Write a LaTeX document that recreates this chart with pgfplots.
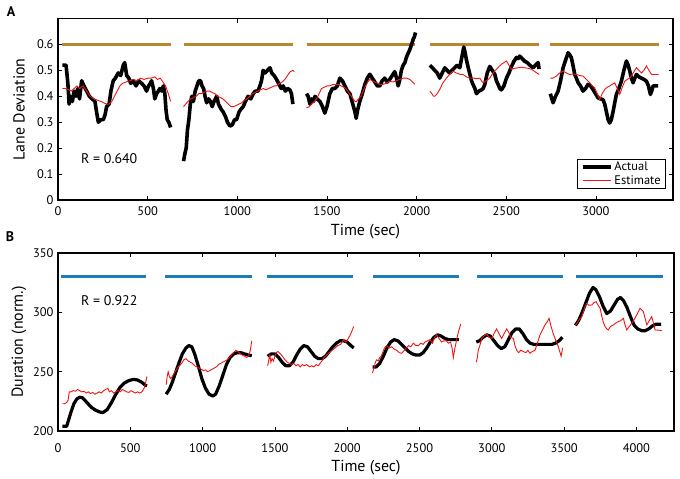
\documentclass[border=0pt]{standalone}
\usepackage{pgfplots}
\pgfplotsset{compat=1.18}
\usepackage{fontspec}
\setmainfont{PT Sans}
\definecolor{gold}{RGB}{183,136,46}
\definecolor{barblue}{RGB}{28,124,186}
\definecolor{estred}{RGB}{240,20,20}
\pgfplotsset{
  common/.style={
    scale only axis,
    axis line style={line width=1.1bp},
    tick style={line width=0.8bp, black},
    major tick length=4bp,
    tick align=inside,
    /pgf/number format/assume math mode=true,
    /pgf/number format/1000 sep={},
    scaled ticks=false,
    ticklabel style={font=\fontsize{12.5}{14}\selectfont},
    xticklabel style={yshift=-3bp},
    yticklabel style={xshift=-1bp},
    label style={font=\fontsize{16}{18}\selectfont},
    xlabel style={at={(axis description cs:0.5,0)}, anchor=north, inner sep=0pt},
    legend image code/.code={\draw[#1] (0bp,0bp) -- (28bp,0bp);},
  },
  act/.style={black, line width=3.6bp, line join=round, forget plot},
  est/.style={estred, line width=0.9bp, forget plot},
}
\begin{document}
\begin{tikzpicture}[x=1bp,y=1bp]
\path[use as bounding box] (0,0) rectangle (680,-479);
\node[font=\fontsize{14}{16}\selectfont\bfseries, anchor=center] at (11,-12) {A};
\node[font=\fontsize{14}{16}\selectfont\bfseries, anchor=center] at (10,-237) {B};
\begin{axis}[common,
  at={(58bp,-200bp)}, anchor=south west,
  width=615bp, height=181.5bp,
  xmin=0, xmax=3430, ymin=0, ymax=0.7,
  xtick={0,500,1000,1500,2000,2500,3000},
  ytick={0,0.1,0.2,0.3,0.4,0.5,0.6},
  yticklabels={0,0.1,0.2,0.3,0.4,0.5,0.6},
  xlabel={Time (sec)}, ylabel={Lane Deviation},
  xlabel style={yshift=-24bp},
  ylabel style={at={(axis description cs:-0.0634,0.5)}, anchor=center},
  legend style={at={(rel axis cs:0.9886,0.0606)}, anchor=south east,
    font=\fontsize{12.5}{14}\selectfont, draw=black, line width=0.8bp,
    inner xsep=3bp, inner ysep=1bp, row sep=-1bp},
  legend cell align=left,
]
\addlegendimage{black, line width=3.6bp}
\addlegendentry{Actual}
\addlegendimage{estred, line width=0.9bp}
\addlegendentry{Estimate}
% bars
\addplot[gold, line width=3bp, forget plot] coordinates {(24,0.6) (632,0.6)};
\addplot[gold, line width=3bp, forget plot] coordinates {(702,0.6) (1312,0.6)};
\addplot[gold, line width=3bp, forget plot] coordinates {(1386,0.6) (1990,0.6)};
\addplot[gold, line width=3bp, forget plot] coordinates {(2074,0.6) (2683,0.6)};
\addplot[gold, line width=3bp, forget plot] coordinates {(2746,0.6) (3352,0.6)};
% actual
\addplot[act] coordinates {(24,0.52) (45,0.52) (55,0.45) (62,0.37) (70,0.40) (80,0.38) (90,0.42) (100,0.40) (110,0.43) (120,0.39) (132,0.46) (145,0.44) (160,0.42) (175,0.40) (190,0.39) (206,0.38) (215,0.34) (225,0.30) (240,0.31) (253,0.31) (263,0.33) (271,0.36) (285,0.37) (295,0.42) (308,0.46) (320,0.47) (336,0.49) (350,0.48) (364,0.52) (372,0.53) (383,0.48) (395,0.47) (405,0.45) (420,0.46) (435,0.44) (450,0.46) (466,0.45) (480,0.44) (494,0.42) (505,0.44) (515,0.45) (522,0.46) (532,0.43) (540,0.39) (550,0.41) (560,0.42) (568,0.43) (578,0.42) (588,0.44) (596,0.41) (602,0.35) (609,0.31) (618,0.30) (628,0.28)};
\addplot[act] coordinates {(700,0.15) (708,0.18) (715,0.20) (722,0.27) (730,0.31) (738,0.37) (746,0.40) (755,0.38) (765,0.42) (775,0.44) (785,0.46) (795,0.46) (803,0.44) (812,0.43) (820,0.40) (829,0.375) (840,0.39) (850,0.38) (860,0.36) (870,0.38) (885,0.40) (895,0.37) (910,0.35) (921,0.34) (935,0.32) (945,0.30) (959,0.285) (972,0.29) (985,0.31) (996,0.31) (1010,0.34) (1020,0.35) (1033,0.36) (1045,0.38) (1060,0.40) (1075,0.39) (1089,0.41) (1100,0.42) (1115,0.42) (1126,0.44) (1135,0.46) (1144,0.50) (1155,0.49) (1168,0.50) (1182,0.51) (1192,0.49) (1205,0.48) (1219,0.465) (1230,0.45) (1245,0.43) (1256,0.44) (1268,0.42) (1280,0.43) (1293,0.425) (1302,0.41) (1310,0.37)};
\addplot[act] coordinates {(1386,0.41) (1395,0.40) (1405,0.37) (1415,0.39) (1425,0.38) (1433,0.40) (1445,0.39) (1461,0.38) (1475,0.36) (1488,0.335) (1500,0.36) (1516,0.41) (1530,0.43) (1544,0.43) (1558,0.44) (1572,0.47) (1586,0.46) (1600,0.44) (1614,0.42) (1628,0.41) (1640,0.38) (1648,0.36) (1656,0.34) (1663,0.315) (1672,0.35) (1683,0.38) (1697,0.41) (1711,0.445) (1725,0.47) (1739,0.485) (1753,0.47) (1767,0.455) (1781,0.44) (1795,0.44) (1808,0.46) (1822,0.47) (1836,0.455) (1850,0.465) (1864,0.48) (1878,0.495) (1888,0.47) (1897,0.44) (1905,0.46) (1915,0.50) (1925,0.52) (1935,0.53) (1943,0.55) (1952,0.565) (1962,0.58) (1972,0.60) (1981,0.62) (1988,0.63) (1994,0.646)};
\addplot[act] coordinates {(2074,0.52) (2088,0.51) (2101,0.50) (2115,0.49) (2129,0.47) (2143,0.49) (2157,0.51) (2170,0.50) (2184,0.49) (2198,0.50) (2212,0.51) (2226,0.52) (2241,0.51) (2252,0.55) (2263,0.59) (2270,0.57) (2278,0.54) (2288,0.51) (2297,0.485) (2306,0.46) (2315,0.445) (2325,0.43) (2334,0.41) (2348,0.42) (2362,0.425) (2371,0.43) (2380,0.445) (2394,0.49) (2408,0.515) (2422,0.50) (2436,0.485) (2445,0.46) (2455,0.445) (2464,0.43) (2473,0.425) (2487,0.44) (2501,0.47) (2515,0.49) (2529,0.515) (2543,0.535) (2557,0.55) (2566,0.545) (2575,0.555) (2589,0.545) (2603,0.535) (2617,0.53) (2631,0.52) (2640,0.515) (2650,0.51) (2663,0.52) (2678,0.53) (2683,0.505)};
\addplot[act] coordinates {(2746,0.41) (2754,0.39) (2761,0.375) (2775,0.40) (2789,0.42) (2803,0.46) (2817,0.51) (2831,0.54) (2845,0.568) (2854,0.56) (2863,0.549) (2872,0.52) (2882,0.484) (2891,0.47) (2901,0.452) (2914,0.44) (2928,0.42) (2942,0.43) (2956,0.446) (2970,0.44) (2984,0.426) (2998,0.41) (3012,0.394) (3026,0.39) (3040,0.387) (3049,0.37) (3058,0.342) (3068,0.31) (3077,0.297) (3086,0.31) (3096,0.342) (3105,0.375) (3114,0.407) (3128,0.43) (3142,0.458) (3156,0.50) (3170,0.536) (3180,0.52) (3189,0.497) (3198,0.47) (3207,0.452) (3217,0.47) (3226,0.484) (3240,0.475) (3254,0.47) (3268,0.465) (3282,0.458) (3293,0.44) (3304,0.407) (3311,0.42) (3319,0.44) (3333,0.44) (3347,0.44)};
% estimate
\addplot[est] coordinates {(24,0.43) (40,0.43) (60,0.425) (75,0.42) (90,0.43) (105,0.44) (120,0.43) (140,0.44) (160,0.42) (180,0.40) (200,0.39) (220,0.385) (240,0.38) (255,0.375) (270,0.37) (285,0.37) (300,0.38) (315,0.40) (330,0.42) (345,0.44) (360,0.45) (380,0.455) (400,0.46) (420,0.465) (440,0.46) (460,0.47) (480,0.465) (500,0.47) (520,0.47) (540,0.475) (555,0.465) (570,0.47) (585,0.455) (600,0.44) (615,0.41) (628,0.38)};
\addplot[est] coordinates {(700,0.36) (712,0.37) (725,0.38) (740,0.39) (755,0.395) (770,0.40) (785,0.41) (800,0.41) (815,0.415) (830,0.42) (845,0.42) (860,0.415) (875,0.41) (890,0.40) (905,0.395) (920,0.39) (935,0.38) (950,0.37) (965,0.36) (980,0.36) (995,0.365) (1010,0.37) (1025,0.375) (1040,0.385) (1055,0.39) (1070,0.40) (1085,0.41) (1100,0.415) (1115,0.42) (1130,0.425) (1145,0.43) (1160,0.425) (1175,0.43) (1190,0.435) (1205,0.44) (1220,0.44) (1235,0.45) (1250,0.455) (1265,0.465) (1280,0.48) (1295,0.495) (1310,0.50) (1318,0.495)};
\addplot[est] coordinates {(1386,0.355) (1400,0.36) (1415,0.37) (1430,0.38) (1442,0.39) (1456,0.41) (1470,0.43) (1485,0.435) (1500,0.44) (1516,0.44) (1530,0.445) (1545,0.445) (1563,0.446) (1580,0.44) (1595,0.435) (1610,0.426) (1625,0.41) (1636,0.40) (1646,0.39) (1657,0.38) (1665,0.38) (1675,0.39) (1690,0.40) (1702,0.42) (1715,0.44) (1728,0.455) (1739,0.465) (1752,0.46) (1767,0.455) (1782,0.45) (1797,0.445) (1813,0.446) (1830,0.45) (1850,0.458) (1868,0.455) (1887,0.46) (1905,0.465) (1925,0.47) (1945,0.47) (1962,0.465) (1978,0.455) (1990,0.446)};
\addplot[est] coordinates {(2074,0.42) (2085,0.41) (2094,0.40) (2101,0.40) (2115,0.41) (2129,0.426) (2145,0.45) (2166,0.47) (2185,0.485) (2203,0.497) (2220,0.49) (2241,0.485) (2259,0.484) (2278,0.475) (2297,0.47) (2315,0.47) (2334,0.468) (2352,0.47) (2362,0.46) (2371,0.452) (2390,0.46) (2408,0.47) (2426,0.49) (2445,0.504) (2460,0.515) (2473,0.523) (2487,0.53) (2501,0.536) (2515,0.52) (2529,0.504) (2547,0.508) (2566,0.51) (2585,0.512) (2603,0.51) (2622,0.508) (2641,0.504) (2660,0.495) (2683,0.484)};
\addplot[est] coordinates {(2746,0.47) (2760,0.47) (2780,0.478) (2798,0.49) (2817,0.497) (2835,0.49) (2854,0.484) (2872,0.486) (2891,0.484) (2910,0.48) (2928,0.478) (2947,0.465) (2966,0.452) (2980,0.44) (2993,0.433) (3007,0.41) (3021,0.387) (3035,0.41) (3049,0.426) (3063,0.435) (3077,0.44) (3091,0.446) (3105,0.452) (3119,0.43) (3133,0.407) (3147,0.435) (3161,0.458) (3175,0.465) (3189,0.47) (3208,0.49) (3226,0.51) (3240,0.50) (3254,0.49) (3268,0.50) (3282,0.517) (3296,0.50) (3310,0.484) (3330,0.484) (3350,0.484)};
\node[anchor=west, inner sep=0pt, font=\fontsize{14}{16}\selectfont] at (axis cs:128,0.159) {R = 0.640};
\end{axis}
\begin{axis}[common,
  at={(58bp,-431bp)}, anchor=south west,
  width=616bp, height=178bp,
  xmin=0, xmax=4260, ymin=200, ymax=350,
  xtick={0,500,1000,1500,2000,2500,3000,3500,4000},
  ytick={200,250,300,350},
  xlabel={Time (sec)}, ylabel={Duration (norm.)},
  xlabel style={yshift=-29bp},
  xticklabel style={yshift=-6bp},
  ylabel style={at={(axis description cs:-0.0633,0.5)}, anchor=center},
]
\addplot[barblue, line width=3bp] coordinates {(20,330) (612,330)};
\addplot[barblue, line width=3bp] coordinates {(742,330) (1340,330)};
\addplot[barblue, line width=3bp] coordinates {(1445,330) (2042,330)};
\addplot[barblue, line width=3bp] coordinates {(2176,330) (2776,330)};
\addplot[barblue, line width=3bp] coordinates {(2895,330) (3495,330)};
\addplot[barblue, line width=3bp] coordinates {(3583,330) (4182,330)};
\addplot[act, line width=3.2bp] coordinates {(30,204) (60,204) (75,210) (90,216) (110,223) (130,227) (150,228.5) (170,228) (200,224) (230,220) (260,217.5) (290,216) (310,215.5) (340,218) (370,224) (400,231) (430,237) (460,240.5) (490,242.5) (520,243.5) (550,243) (580,241) (605,238.5) (615,238)};
\addplot[act, line width=3.2bp] coordinates {(748,231) (770,235) (790,241) (810,248) (835,257) (860,265) (885,270) (905,272) (925,271) (945,265) (970,255) (995,244) (1020,236) (1045,231) (1070,229.5) (1090,231) (1115,238) (1140,247) (1165,256) (1190,262) (1215,265) (1240,266) (1265,266) (1290,265) (1315,264) (1340,263.5)};
\addplot[act, line width=3.2bp] coordinates {(1450,263) (1475,265) (1500,265) (1525,262) (1550,258) (1575,255) (1600,255) (1625,258) (1650,264) (1675,269) (1700,272) (1725,271) (1750,267) (1775,263) (1800,261) (1825,261) (1850,263) (1875,267) (1900,271) (1925,274) (1950,276) (1975,276) (2000,275) (2025,272) (2045,270)};
\addplot[act, line width=3.2bp] coordinates {(2175,254) (2200,254) (2225,257) (2250,263) (2275,270) (2300,275) (2325,277) (2350,276) (2375,273) (2400,270) (2425,267) (2450,265) (2475,264) (2500,264) (2525,266) (2550,270) (2575,275) (2600,279) (2625,281) (2650,280) (2675,278) (2700,277) (2725,277) (2750,277) (2772,277)};
\addplot[act, line width=3.2bp] coordinates {(2893,275) (2915,276) (2940,279) (2965,281) (2990,280) (3015,276) (3040,272) (3065,269.5) (3090,271) (3115,277) (3140,283) (3165,286) (3190,286) (3215,282) (3240,277) (3265,274) (3290,273) (3315,273) (3340,273) (3365,273) (3390,273) (3415,273) (3440,274) (3465,276) (3488,279)};
\addplot[act, line width=3.2bp] coordinates {(3578,289) (3600,293) (3625,300) (3650,308) (3675,316) (3700,321) (3720,319) (3745,313) (3770,305) (3795,299) (3820,301) (3845,306) (3870,311) (3890,312.5) (3910,310) (3935,304) (3960,296) (3985,289) (4010,286) (4037,284.5) (4060,284.5) (4085,286) (4110,288.5) (4135,290) (4170,290)};
\addplot[est] coordinates {(30,223) (45,223) (60,224) (70,226) (78,233) (90,233) (105,234) (120,233.5) (135,235) (150,234) (165,233) (180,233.5) (195,232) (210,233) (225,231.5) (240,232.5) (255,231) (270,232) (285,233) (300,232) (315,234) (330,235) (345,236) (355,233) (370,234) (385,232) (400,233) (415,234) (430,233) (445,235) (460,234) (475,233) (490,232.5) (505,234) (520,233) (535,232) (550,233) (565,232) (580,233) (595,236) (605,240) (615,246)};
\addplot[est] coordinates {(748,239) (755,246) (762,250) (770,246) (780,244) (795,247) (810,250) (825,253) (840,255) (855,257) (870,260) (885,261) (900,259) (915,258) (930,257) (945,255) (960,254) (975,253) (990,252) (1005,251) (1020,251.5) (1035,250) (1050,251) (1065,252) (1080,253) (1095,254) (1110,256) (1125,257) (1140,258) (1155,259) (1170,260) (1185,262) (1200,264) (1215,266) (1230,268) (1245,267) (1260,265) (1275,264) (1290,263) (1305,262) (1320,264) (1330,268) (1340,276)};
\addplot[est] coordinates {(1450,255) (1458,260) (1465,264) (1472,258) (1480,261) (1490,259) (1500,263) (1510,266) (1520,267) (1530,266) (1545,264) (1558,262) (1570,260) (1585,258) (1600,257) (1615,256) (1630,257) (1645,255) (1660,256) (1675,254) (1690,256) (1705,255) (1720,256) (1740,254) (1755,255) (1770,254) (1785,256) (1800,255) (1812,257) (1825,259) (1840,262) (1858,264) (1875,266) (1895,268) (1916,270) (1935,272) (1955,273) (1974,277) (1990,275) (2008,278) (2025,282) (2038,286) (2045,288)};
\addplot[est] coordinates {(2175,249) (2185,253) (2195,258) (2204,260) (2215,259) (2225,262) (2234,263) (2245,266) (2258,270) (2273,272) (2290,270) (2307,271) (2325,269) (2342,268) (2360,266) (2377,265.5) (2395,268) (2411,270) (2425,272) (2440,271) (2457,274) (2475,272) (2492,272) (2510,274) (2525,273) (2538,275) (2555,276) (2573,277) (2590,274) (2605,279) (2619,281) (2635,278) (2653,275) (2670,276) (2685,276) (2700,274) (2715,275) (2725,270) (2734,262) (2745,270) (2757,277) (2770,284) (2785,290)};
\addplot[est] coordinates {(2893,258) (2900,262) (2906,268) (2915,271) (2930,278) (2945,280) (2964,282) (2980,279) (3000,278) (3015,282) (3033,286) (3050,282) (3068,278) (3085,282) (3103,286) (3118,283) (3130,279) (3149,278) (3160,272) (3172,268) (3185,266) (3200,268) (3218,267) (3235,266) (3250,268) (3264,265.5) (3280,267) (3299,268) (3315,274) (3333,281) (3350,285) (3368,289.5) (3383,292) (3396,295) (3410,288) (3425,282) (3440,277) (3460,271) (3472,266) (3479,263) (3490,270)};
\addplot[est] coordinates {(3578,289) (3590,291) (3605,294) (3621,296) (3635,301) (3645,305) (3656,307.6) (3670,306) (3691,306.2) (3705,308) (3721,309) (3735,306) (3749,303.4) (3760,297) (3770,292) (3783,288) (3795,286) (3806,285.2) (3820,288) (3841,289.4) (3858,291) (3875,292.2) (3892,293) (3910,295) (3920,290) (3933,285.2) (3950,288) (3968,290.8) (3985,294) (4002,297.8) (4015,301) (4025,303.4) (4037,302) (4048,300.6) (4060,295) (4072,289.4) (4089,293) (4106,296.4) (4118,291) (4129,285.2) (4150,285) (4175,284.6)};
\node[anchor=west, inner sep=0pt, font=\fontsize{14}{16}\selectfont] at (axis cs:159,309.6) {R = 0.922};
\end{axis}
\end{tikzpicture}
\end{document}
